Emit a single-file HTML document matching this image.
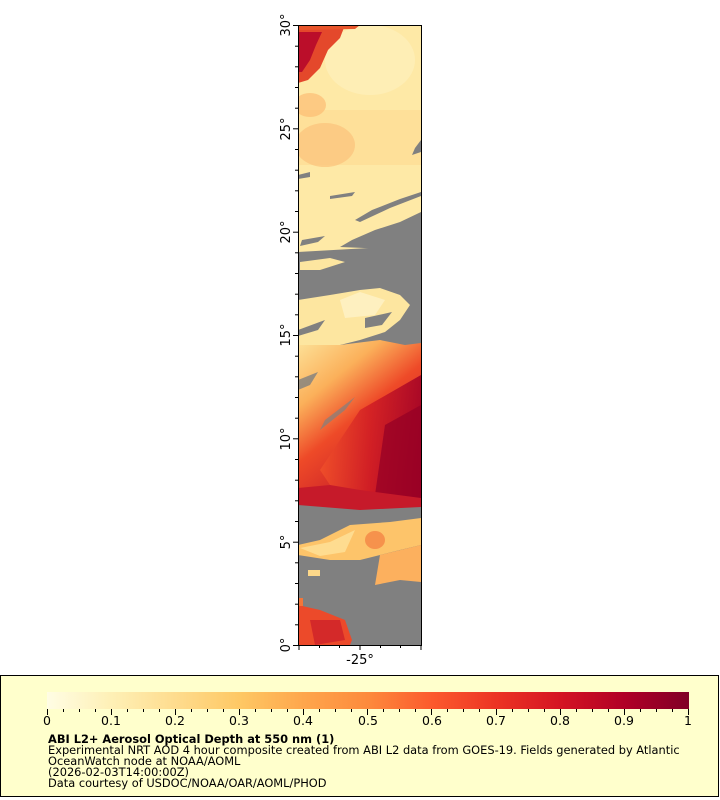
<!DOCTYPE html>
<html><head><meta charset="utf-8"><style>
html,body{margin:0;padding:0;background:#fff;}
body{width:720px;height:800px;position:relative;overflow:hidden;font-family:"DejaVu Sans","Liberation Sans",sans-serif;}
</style></head><body>
<svg width="720" height="800" viewBox="0 0 720 800" xmlns="http://www.w3.org/2000/svg" style="position:absolute;left:0;top:0">
<defs>
<linearGradient id="cb" x1="0" x2="1" y1="0" y2="0">
<stop offset="0" stop-color="#fffde4"/>
<stop offset="0.1" stop-color="#fef0b6"/>
<stop offset="0.2" stop-color="#fedc8e"/>
<stop offset="0.3" stop-color="#fec864"/>
<stop offset="0.4" stop-color="#fea64c"/>
<stop offset="0.5" stop-color="#fd8a3c"/>
<stop offset="0.6" stop-color="#fc5a2d"/>
<stop offset="0.7" stop-color="#ec3424"/>
<stop offset="0.8" stop-color="#d41423"/>
<stop offset="0.9" stop-color="#b00026"/>
<stop offset="1" stop-color="#800026"/>
</linearGradient>
<linearGradient id="mid" x1="0" y1="0" x2="0.6" y2="1">
<stop offset="0" stop-color="#fde39a"/>
<stop offset="0.3" stop-color="#fbb05a"/>
<stop offset="0.55" stop-color="#ee4a28"/>
<stop offset="1" stop-color="#c01428"/>
</linearGradient>
<linearGradient id="red" x1="0" y1="0" x2="1" y2="0">
<stop offset="0" stop-color="#f0502a"/>
<stop offset="0.5" stop-color="#d01c24"/>
<stop offset="1" stop-color="#a10026"/>
</linearGradient>
<clipPath id="pc"><rect x="298" y="25" width="123" height="620"/></clipPath>
</defs>
<g clip-path="url(#pc)">
<rect x="298" y="25" width="123" height="620" fill="#808080"/>
<!-- top yellow -->
<polygon points="298,25 421,25 421,240 380,250 340,250 298,255" fill="#fee9a6"/>
<rect x="298" y="110" width="123" height="55" fill="#fddc94" opacity="0.7"/>
<ellipse cx="325" cy="145" rx="30" ry="22" fill="#fbc27a" opacity="0.7"/>
<ellipse cx="310" cy="105" rx="16" ry="12" fill="#fbb56c" opacity="0.6"/>
<ellipse cx="370" cy="60" rx="45" ry="35" fill="#fef0bc" opacity="0.7"/>
<!-- dark red blob -->
<polygon points="298,28 345,25 340,38 328,50 320,68 308,80 298,83" fill="#e4482b"/>
<polygon points="298,32 322,32 316,45 310,60 302,72 298,72" fill="#bb0e2a"/>
<polygon points="298,25 360,25 355,29 298,30" fill="#e8552b"/>
<!-- gray streaks -->
<polygon points="410,250 421,240 421,212 400,222 375,230 352,240 340,247" fill="#808080"/>
<polygon points="360,222 390,208 421,196 421,192 400,199 372,210 355,220" fill="#808080"/>
<polygon points="298,175 310,172 310,177 298,179" fill="#808080"/>
<polygon points="330,196 355,192 352,196 330,199" fill="#808080"/>
<polygon points="415,148 421,140 421,152 412,155" fill="#808080"/>
<polygon points="302,240 325,236 318,242 300,246" fill="#808080"/>
<!-- gray band -->
<polygon points="298,252 421,245 421,300 298,300" fill="#808080"/>
<!-- yellow region 290-350 -->
<polygon points="298,300 330,295 360,290 380,288 400,295 410,305 400,320 385,332 360,340 340,345 298,350" fill="#fde6a0"/>
<polygon points="300,262 330,258 345,262 320,270 300,270" fill="#fde6a0"/>
<polygon points="340,300 360,292 385,300 375,315 345,318" fill="#fef0c0"/>
<polygon points="298,330 325,320 318,330 298,336" fill="#808080"/>
<polygon points="365,318 392,312 382,325 365,328" fill="#808080"/>
<!-- middle transition -->
<polygon points="298,345 340,345 380,340 405,345 421,343 421,505 298,500" fill="url(#mid)"/>
<polygon points="360,410 421,375 421,505 340,500 320,470" fill="url(#red)" opacity="0.85"/>
<polygon points="385,425 421,405 421,500 375,495" fill="#960026" opacity="0.75"/>
<polygon points="298,380 318,372 310,385 298,390" fill="#808080" opacity="0.8"/>
<polygon points="325,420 355,397 345,410 320,430" fill="#808080" opacity="0.7"/>
<polygon points="298,488 330,485 360,490 421,498 421,507 360,510 298,505" fill="#c61a2a"/>
<!-- lower -->
<polygon points="298,545 320,540 350,525 390,522 421,518 421,545 400,550 360,560 330,560 298,555" fill="#fdc46a"/>
<polygon points="300,548 330,542 355,530 345,552 320,556" fill="#fedc90"/>
<polygon points="380,555 421,545 421,582 400,580 375,585" fill="#fcb05e"/>
<ellipse cx="375" cy="540" rx="10" ry="9" fill="#f0602e" opacity="0.5"/>
<rect x="308" y="570" width="12" height="6" fill="#fdd88a"/>
<polygon points="298,605 320,610 345,620 352,640 350,645 298,645" fill="#ec4a2a"/>
<polygon points="310,620 340,620 345,640 315,645" fill="#c4142a" opacity="0.6"/>
<rect x="298" y="598" width="5" height="8" fill="#f3763a"/>
</g>
<rect x="298.5" y="25.5" width="123" height="620" fill="none" stroke="#000" stroke-width="1"/>
<!-- y ticks -->
<g stroke="#000" stroke-width="1">
<line x1="293" y1="645.5" x2="298" y2="645.5"/><line x1="295" y1="624.8" x2="298" y2="624.8"/><line x1="295" y1="604.2" x2="298" y2="604.2"/><line x1="295" y1="583.5" x2="298" y2="583.5"/><line x1="295" y1="562.8" x2="298" y2="562.8"/>
<line x1="293" y1="542.2" x2="298" y2="542.2"/><line x1="295" y1="521.5" x2="298" y2="521.5"/><line x1="295" y1="500.8" x2="298" y2="500.8"/><line x1="295" y1="480.2" x2="298" y2="480.2"/><line x1="295" y1="459.5" x2="298" y2="459.5"/>
<line x1="293" y1="438.8" x2="298" y2="438.8"/><line x1="295" y1="418.2" x2="298" y2="418.2"/><line x1="295" y1="397.5" x2="298" y2="397.5"/><line x1="295" y1="376.8" x2="298" y2="376.8"/><line x1="295" y1="356.2" x2="298" y2="356.2"/>
<line x1="293" y1="335.5" x2="298" y2="335.5"/><line x1="295" y1="314.8" x2="298" y2="314.8"/><line x1="295" y1="294.2" x2="298" y2="294.2"/><line x1="295" y1="273.5" x2="298" y2="273.5"/><line x1="295" y1="252.8" x2="298" y2="252.8"/>
<line x1="293" y1="232.2" x2="298" y2="232.2"/><line x1="295" y1="211.5" x2="298" y2="211.5"/><line x1="295" y1="190.8" x2="298" y2="190.8"/><line x1="295" y1="170.2" x2="298" y2="170.2"/><line x1="295" y1="149.5" x2="298" y2="149.5"/>
<line x1="293" y1="128.8" x2="298" y2="128.8"/><line x1="295" y1="108.2" x2="298" y2="108.2"/><line x1="295" y1="87.5" x2="298" y2="87.5"/><line x1="295" y1="66.8" x2="298" y2="66.8"/><line x1="295" y1="46.2" x2="298" y2="46.2"/>
<line x1="293" y1="25.5" x2="298" y2="25.5"/>
<line x1="299" y1="645" x2="299" y2="650"/><line x1="319.5" y1="645" x2="319.5" y2="648"/><line x1="339.5" y1="645" x2="339.5" y2="648"/><line x1="360" y1="645" x2="360" y2="650"/><line x1="380.5" y1="645" x2="380.5" y2="648"/><line x1="400.5" y1="645" x2="400.5" y2="648"/><line x1="421" y1="645" x2="421" y2="650"/>
</g>
<g font-family="DejaVu Sans, Liberation Sans, sans-serif" font-size="13" fill="#000">
<text transform="translate(290,645) rotate(-90)" text-anchor="middle">0°</text>
<text transform="translate(290,542) rotate(-90)" text-anchor="middle">5°</text>
<text transform="translate(290,439) rotate(-90)" text-anchor="middle">10°</text>
<text transform="translate(290,335) rotate(-90)" text-anchor="middle">15°</text>
<text transform="translate(290,232) rotate(-90)" text-anchor="middle">20°</text>
<text transform="translate(290,129) rotate(-90)" text-anchor="middle">25°</text>
<text transform="translate(290,25) rotate(-90)" text-anchor="middle">30°</text>
<text x="360" y="664" text-anchor="middle">-25°</text>
</g>
<!-- legend -->
<rect x="0.5" y="675.5" width="718" height="121" fill="#ffffcc" stroke="#000" stroke-width="1"/>
<rect x="47" y="692" width="642" height="17" fill="url(#cb)"/>
<g stroke="#000" stroke-width="1">
<path d="M47.5 709v6M63.5 709v3M79.5 709v3M95.5 709v3M111.5 709v6M127.5 709v3M143.5 709v3M159.5 709v3M175.5 709v6M191.5 709v3M207.5 709v3M223.5 709v3M239.5 709v6M255.5 709v3M271.5 709v3M287.5 709v3M303.5 709v6M319.5 709v3M335.5 709v3M351.5 709v3M367.5 709v6M383.5 709v3M399.5 709v3M415.5 709v3M431.5 709v6M447.5 709v3M463.5 709v3M479.5 709v3M496.5 709v6M512.5 709v3M528.5 709v3M544.5 709v3M560.5 709v6M576.5 709v3M592.5 709v3M608.5 709v3M624.5 709v6M640.5 709v3M656.5 709v3M672.5 709v3M688.5 709v6"/>
</g>
<g font-family="DejaVu Sans, Liberation Sans, sans-serif" font-size="12.5" fill="#000" text-anchor="middle">
<text x="47" y="725">0</text><text x="111" y="725">0.1</text><text x="175" y="725">0.2</text><text x="239" y="725">0.3</text><text x="303" y="725">0.4</text><text x="368" y="725">0.5</text><text x="432" y="725">0.6</text><text x="496" y="725">0.7</text><text x="560" y="725">0.8</text><text x="624" y="725">0.9</text><text x="688" y="725">1</text>
</g>
<g font-family="DejaVu Sans, Liberation Sans, sans-serif" font-size="11.4" fill="#000">
<text x="48" y="743" font-weight="bold">ABI L2+ Aerosol Optical Depth at 550 nm (1)</text>
<text x="48" y="754">Experimental NRT AOD 4 hour composite created from ABI L2 data from GOES-19. Fields generated by Atlantic</text>
<text x="48" y="765">OceanWatch node at NOAA/AOML</text>
<text x="48" y="776">(2026-02-03T14:00:00Z)</text>
<text x="48" y="787">Data courtesy of USDOC/NOAA/OAR/AOML/PHOD</text>
</g>
</svg>
</body></html>
